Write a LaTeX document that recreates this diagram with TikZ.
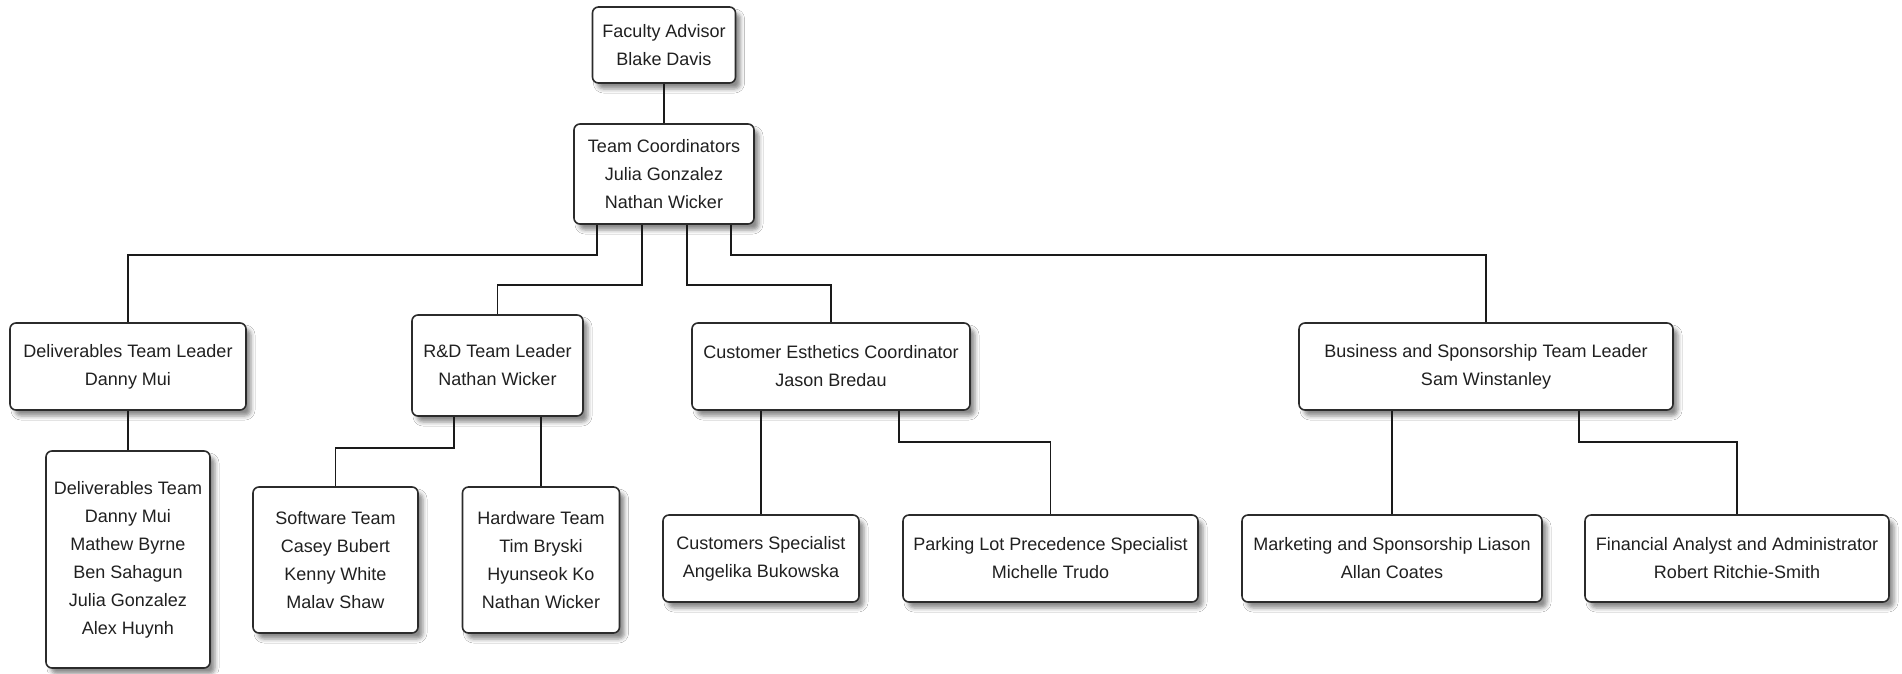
\documentclass[tikz,border=0pt]{standalone}
\usepackage{fontspec}
\setmainfont{Liberation Sans}
\usepackage{tikz}
\usetikzlibrary{positioning, shadows.blur}
\definecolor{boxline}{HTML}{2B2B2B}
\definecolor{linkline}{HTML}{1A1A1A}
\definecolor{textgray}{HTML}{202020}

\tikzset{
  orgbox/.style={draw=boxline, line width=1.6pt, fill=white, rounded corners=6pt,
    align=center, inner sep=0pt, text=textgray, font=\fontsize{18}{28}\selectfont,
    blur shadow={shadow xshift=5pt, shadow yshift=-6pt, shadow blur radius=4pt, shadow opacity=45}},
  link/.style={draw=linkline, line width=1.6pt}
}

\begin{document}
\begin{tikzpicture}[x=1pt, y=-1pt]
  % Canvas
  \fill[white] (0,0) rectangle (1902,673);
  \useasboundingbox (0,0) rectangle (1902,673);

  % Top of the chart
  \node[orgbox, minimum width=143pt, minimum height=76pt] (fa) at (664,45) {Faculty Advisor\\Blake Davis};
  \node[orgbox, minimum width=180pt, minimum height=100pt] (tc) at (664,174) {Team Coordinators\\Julia Gonzalez\\Nathan Wicker};

  % Team leaders
  \node[orgbox, minimum width=236pt, minimum height=87pt] (dtl) at (128,366.5) {Deliverables Team Leader\\Danny Mui};
  \node[orgbox, minimum width=171pt, minimum height=101pt] (rdl) at (497.5,365.5) {R\&D Team Leader\\Nathan Wicker};
  \node[orgbox, minimum width=278pt, minimum height=87pt] (cec) at (831,366.5) {Customer Esthetics Coordinator\\Jason Bredau};
  \node[orgbox, minimum width=374pt, minimum height=87pt] (bsl) at (1486,366.5) {Business and Sponsorship Team Leader\\Sam Winstanley};

  % Teams and specialists
  \node[orgbox, minimum width=164pt, minimum height=217pt] (dt) at (128,559.5) {Deliverables Team\\Danny Mui\\Mathew Byrne\\Ben Sahagun\\Julia Gonzalez\\Alex Huynh};
  \node[orgbox, minimum width=165pt, minimum height=146pt] (sw) at (335.5,560) {Software Team\\Casey Bubert\\Kenny White\\Malav Shaw};
  \node[orgbox, minimum width=157pt, minimum height=146pt] (hw) at (541,560) {Hardware Team\\Tim Bryski\\Hyunseok Ko\\Nathan Wicker};
  \node[orgbox, minimum width=196pt, minimum height=87pt] (cs) at (761,558.5) {Customers Specialist\\Angelika Bukowska};
  \node[orgbox, minimum width=295pt, minimum height=87pt] (pl) at (1050.5,558.5) {Parking Lot Precedence Specialist\\Michelle Trudo};
  \node[orgbox, minimum width=300pt, minimum height=87pt] (ms) at (1392,558.5) {Marketing and Sponsorship Liason\\Allan Coates};
  \node[orgbox, minimum width=304pt, minimum height=87pt] (fin) at (1737,558.5) {Financial Analyst and Administrator\\Robert Ritchie-Smith};

  % Connectors
  \draw[link] (fa.south) -- (tc.north);
  \draw[link] ([xshift=-67pt]tc.south) -- ++(0,30) -| (dtl.north);
  \draw[link] ([xshift=-22pt]tc.south) -- ++(0,60) -| (rdl.north);
  \draw[link] ([xshift=23pt]tc.south) -- ++(0,60) -| (cec.north);
  \draw[link] ([xshift=67pt]tc.south) -- ++(0,30) -| (bsl.north);

  \draw[link] (dtl.south -| dt.north) -- (dt.north);
  \draw[link] ([xshift=-43.5pt]rdl.south) -- ++(0,31) -| (sw.north);
  \draw[link] (rdl.south -| hw.north) -- (hw.north);
  \draw[link] (cec.south -| cs.north) -- (cs.north);
  \draw[link] ([xshift=68pt]cec.south) -- ++(0,31) -| (pl.north);
  \draw[link] (bsl.south -| ms.north) -- (ms.north);
  \draw[link] ([xshift=93pt]bsl.south) -- ++(0,31) -| (fin.north);
\end{tikzpicture}
\end{document}
